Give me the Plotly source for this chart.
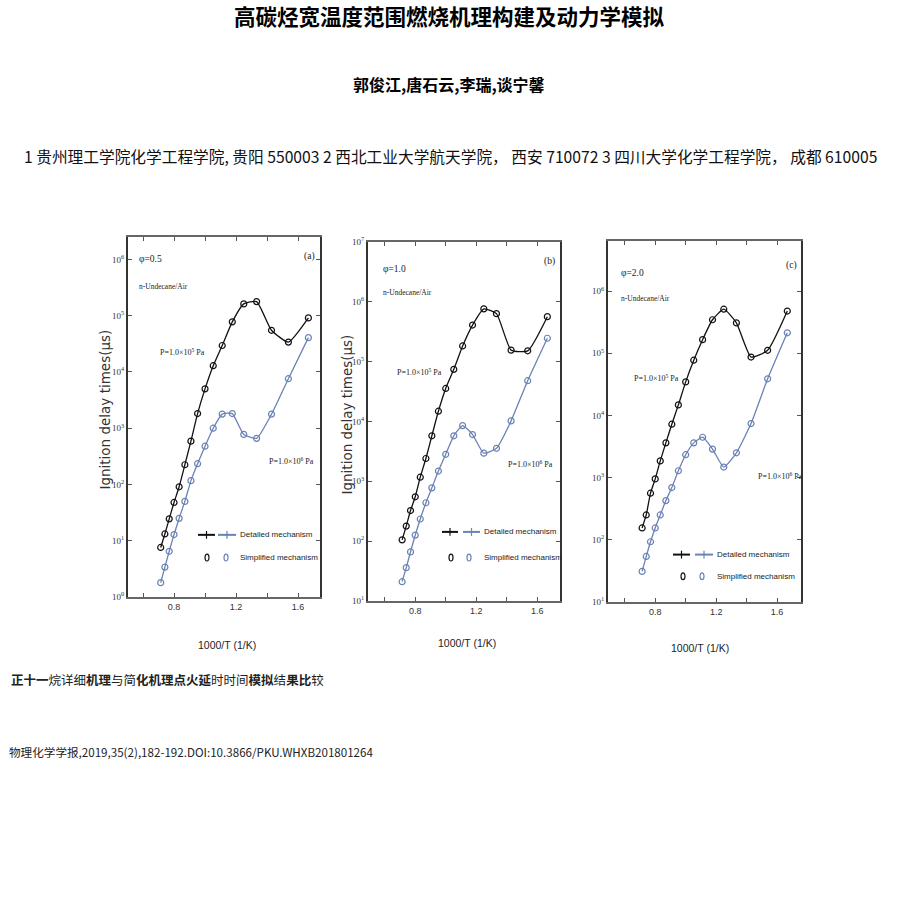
import plotly.graph_objects as go

# ---------------- data ----------------
inv_T = [0.714, 0.741, 0.769, 0.800, 0.833, 0.870, 0.909, 0.952, 1.000,
         1.053, 1.111, 1.176, 1.250, 1.333, 1.429, 1.538, 1.667]

# ignition delay times (μs), panel (a) phi=0.5
a_low_p = [7.6, 13.2, 24.5, 47.9, 91, 224, 589, 1820, 5010, 12900, 29500,
           77600, 162000, 178000, 55000, 33900, 91200]
a_high_p = [1.8, 3.4, 6.5, 12.9, 25, 50, 117, 234, 479, 1000, 1780, 1820,
            776, 661, 1780, 7590, 40700]
# panel (b) phi=1.0
b_low_p = [105, 178, 324, 550, 1170, 2400, 5750, 14800, 35500, 74100, 182000,
           407000, 759000, 631000, 155000, 151000, 562000]
b_high_p = [21, 36, 66, 126, 234, 437, 776, 1480, 2820, 5750, 8510, 6030,
            2950, 3550, 10200, 47900, 245000]
# panel (c) phi=2.0
c_low_p = [155, 251, 562, 955, 1860, 3630, 7240, 14800, 34700, 77600, 166000,
           347000, 513000, 309000, 87100, 112000, 479000]
c_high_p = [31, 54, 93, 155, 251, 427, 692, 1290, 2340, 3630, 4470, 2880,
            1480, 2510, 7410, 38900, 214000]

x_tickvals = [0.6, 0.8, 1.0, 1.2, 1.4, 1.6]
x_ticktext = ["", "0.8", "", "1.2", "", "1.6"]

panel_tags = ["(a)", "(b)", "(c)"]
phi_labels = ["φ=0.5", "φ=1.0", "φ=2.0"]

title_text = "高碳烃宽温度范围燃烧机理构建及动力学模拟"
authors_text = "郭俊江,唐石云,李瑞,谈宁馨"
affil_text = ("1 贵州理工学院化学工程学院, 贵阳 550003 2 西北工业大学航天学院， 西安 710072 "
              "3 四川大学化学工程学院， 成都 610005")
caption_text = ("<b>正十一</b>烷详细<b>机理</b>与简<b>化机理点火延</b>时时间<b>模拟</b>结<b>果比</b>较")
cite_text = "物理化学学报,2019,35(2),182-192.DOI:10.3866/PKU.WHXB201801264"

W, H = 920, 899
BLACK = "#111111"
BLUE = "#6a82b4"
SANS = "Liberation Sans, Arial, sans-serif"
SERIF = "Liberation Serif, Times New Roman, serif"
CJK = "Noto Sans CJK SC, sans-serif"


def px(x, y):
    return x / W, 1 - y / H


# panel geometry (pixels): left, right, top, bottom ; x range ; log-y range
panels = [
    dict(l=128, r=320, t=233, b=598, xr=[0.503, 1.742], yr=[0, 6.4], ylo=0, yhi=6,
         low=a_low_p, high=a_high_p),
    dict(l=368, r=560, t=238, b=602, xr=[0.49, 1.75], yr=[1, 7], ylo=1, yhi=7,
         low=b_low_p, high=b_high_p),
    dict(l=608, r=801, t=237, b=603, xr=[0.49, 1.757], yr=[1, 6.81], ylo=1, yhi=6,
         low=c_low_p, high=c_high_p),
]

fig = go.Figure()
annotations = []
shapes = []

for i, p in enumerate(panels):
    n = "" if i == 0 else str(i + 1)
    xa, ya = "x" + n, "y" + n
    for vals, col in ((p["low"], BLACK), (p["high"], BLUE)):
        fig.add_trace(go.Scatter(
            x=inv_T, y=vals, xaxis=xa, yaxis=ya, mode="lines+markers",
            line=dict(color=col, width=1.3, shape="spline", smoothing=0.5),
            marker=dict(symbol="circle-open", size=6, color=col,
                        line=dict(color=col, width=1.2)),
            showlegend=False, hoverinfo="skip"))
    x0, y1 = px(p["l"], p["t"])
    x1, y0 = px(p["r"], p["b"])
    exps = list(range(p["ylo"], p["yhi"] + 1))
    fig.layout["xaxis" + n] = dict(
        domain=[x0, x1], anchor=ya, range=p["xr"], tickvals=x_tickvals,
        ticktext=x_ticktext, ticks="inside", ticklen=4, mirror="ticks",
        showline=True, linecolor="#666666", linewidth=2, showgrid=False,
        zeroline=False, tickfont=dict(family=SANS, size=9, color="#333333"),
        tickcolor="#555555")
    fig.layout["yaxis" + n] = dict(
        domain=[y0, y1], anchor=xa, type="log", range=p["yr"],
        tickvals=[10 ** e for e in exps],
        ticktext=["10<sup>%d</sup>" % e for e in exps],
        ticks="inside", ticklen=4, mirror="ticks", showline=True,
        linecolor="#333333", linewidth=2, showgrid=False, zeroline=False,
        tickfont=dict(family=SERIF, size=9, color="#333333"),
        tickcolor="#555555")

# ---------------- in-panel texts ----------------
def add_text(x, y, text, size=10, family=SERIF, color="#222222", xanchor="left",
             angle=0):
    xp, yp = px(x, y)
    annotations.append(dict(x=xp, y=yp, xref="paper", yref="paper", text=text,
                            showarrow=False, xanchor=xanchor, yanchor="middle",
                            textangle=angle,
                            font=dict(family=family, size=size, color=color)))


phi_pos = [(137, 255), (381, 266), (619, 270)]
mix_pos = [(137, 283), (381, 289), (619, 295)]
tag_pos = [(309, 253), (549, 258), (791, 262)]
plow_pos = [(158, 350), (395, 370), (632, 376)]
phigh_pos = [(267, 460), (506, 463), (756, 475)]
for i in range(3):
    add_text(*phi_pos[i], phi_labels[i], size=9.5)
    add_text(*mix_pos[i], "n-Undecane/Air", size=7.5)
    add_text(*tag_pos[i], panel_tags[i], size=9.5, xanchor="center")
    add_text(*plow_pos[i], "P=1.0×10<sup>5</sup> Pa", size=8)
    add_text(*phigh_pos[i], "P=1.0×10<sup>6</sup> Pa", size=8)

# legend blocks (decoration)
leg = [
    dict(r1=535, r2=558, bl=(198, 215), bu=(218, 236), o=(207, 226), tx=238),
    dict(r1=532, r2=558, bl=(442, 458), bu=(463, 480), o=(451, 469), tx=482),
    dict(r1=555, r2=577, bl=(673, 690), bu=(695, 713), o=(683, 702), tx=715),
]
for g in leg:
    for (xa_, xb_), col in ((g["bl"], BLACK), (g["bu"], BLUE)):
        xa_p, yy = px(xa_, g["r1"])
        xb_p, _ = px(xb_, g["r1"])
        shapes.append(dict(type="line", xref="paper", yref="paper", x0=xa_p, x1=xb_p,
                           y0=yy, y1=yy, line=dict(color=col, width=2)))
        xm = (xa_ + xb_) / 2
        xm_p, ya_p = px(xm, g["r1"] - 4)
        _, yb_p = px(xm, g["r1"] + 4)
        shapes.append(dict(type="line", xref="paper", yref="paper", x0=xm_p, x1=xm_p,
                           y0=ya_p, y1=yb_p, line=dict(color=col, width=1.2)))
    for xo, col in zip(g["o"], (BLACK, BLUE)):
        ox0, oy0 = px(xo - 2, g["r2"] - 3.5)
        ox1, oy1 = px(xo + 2, g["r2"] + 3.5)
        shapes.append(dict(type="circle", xref="paper", yref="paper", x0=ox0, x1=ox1,
                           y0=oy1, y1=oy0, line=dict(color=col, width=1.2)))
    add_text(g["tx"], g["r1"], "Detailed mechanism", size=8, family=SANS)
    add_text(g["tx"], g["r2"], "Simplified mechanism", size=8, family=SANS)

# axis titles
for xc, yc in ((227, 647), (467, 645), (700, 650)):
    add_text(xc, yc, "1000/T (1/K)", size=10.5, family=SANS, xanchor="center")
for xc, yc in ((105, 408), (347, 413)):
    add_text(xc, yc, "Ignition delay times(μs)", size=13.5, family="DejaVu Sans",
             xanchor="center", angle=-90, color="#333333")

# page texts
add_text(449, 9, "<b>" + title_text + "</b>", size=21.5, family=CJK, xanchor="center",
         color="#000000")
add_text(449, 78, "<b>" + authors_text + "</b>", size=16, family=CJK, xanchor="center",
         color="#000000")
add_text(22, 152, affil_text, size=15.7, family="Noto Sans CJK SC, Noto Sans, sans-serif",
         color="#111111")
add_text(9, 682, caption_text, size=12.5, family=CJK, color="#222222")
add_text(7, 755, cite_text, size=11.6, family="Noto Sans CJK SC, Noto Sans, sans-serif",
         color="#222222")

fig.update_layout(width=W, height=H, margin=dict(l=0, r=0, t=0, b=0),
                  paper_bgcolor="white", plot_bgcolor="white",
                  annotations=annotations, shapes=shapes, showlegend=False)
fig.write_html("out.html", config={"displayModeBar": False},
               post_script="document.body.style.margin='0';document.body.style.overflow='hidden';")
